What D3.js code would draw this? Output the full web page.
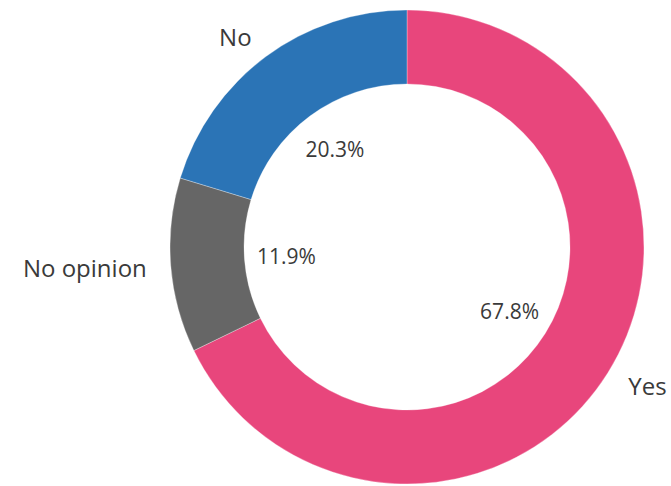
<!DOCTYPE html>
<html><head><meta charset="utf-8">
<script src="https://cdn.jsdelivr.net/npm/d3@7"></script>
<style>body{margin:0;background:#fff}svg{display:block}</style>
</head><body>
<svg id="c" width="671" height="486"></svg>
<script>
const categories = ["Yes", "No opinion", "No"];
const values = [67.8, 11.9, 20.3];
const colors = ["#E8467C", "#666666", "#2B74B6"];

const svg = d3.select("#c");
const cx = 407, cy = 247, R = 237, r = 163;
const g = svg.append("g").attr("transform", `translate(${cx},${cy})`);
const pie = d3.pie().sort(null).value(d => d.v);
const data = pie(categories.map((c, i) => ({c, v: values[i], col: colors[i]})));
const arc = d3.arc().innerRadius(r).outerRadius(R);
g.selectAll("path").data(data).join("path")
  .attr("d", arc).attr("fill", d => d.data.col)
  .attr("stroke", "#fff").attr("stroke-width", 0.5).attr("stroke-opacity", 0.6);

const font = "'Open Sans', sans-serif";
const pctArc = d3.arc().innerRadius(121).outerRadius(121);
g.selectAll("text.pct").data(data).join("text").attr("class", "pct")
  .attr("transform", d => `translate(${pctArc.centroid(d)})`)
  .attr("text-anchor", "middle").attr("dy", "0.35em")
  .attr("font-family", font).attr("font-size", 21).attr("fill", "#3a3a3a")
  .text(d => d.data.v.toFixed(1) + "%");

const labArc = d3.arc().innerRadius(261).outerRadius(261);
g.selectAll("text.lab").data(data).join("text").attr("class", "lab")
  .attr("transform", d => `translate(${labArc.centroid(d)})`)
  .attr("text-anchor", d => labArc.centroid(d)[0] > 0 ? "start" : "end").attr("dy", "0.38em")
  .attr("font-family", font).attr("font-size", 24).attr("fill", "#3a3a3a")
  .text(d => d.data.c);
</script>
</body></html>
